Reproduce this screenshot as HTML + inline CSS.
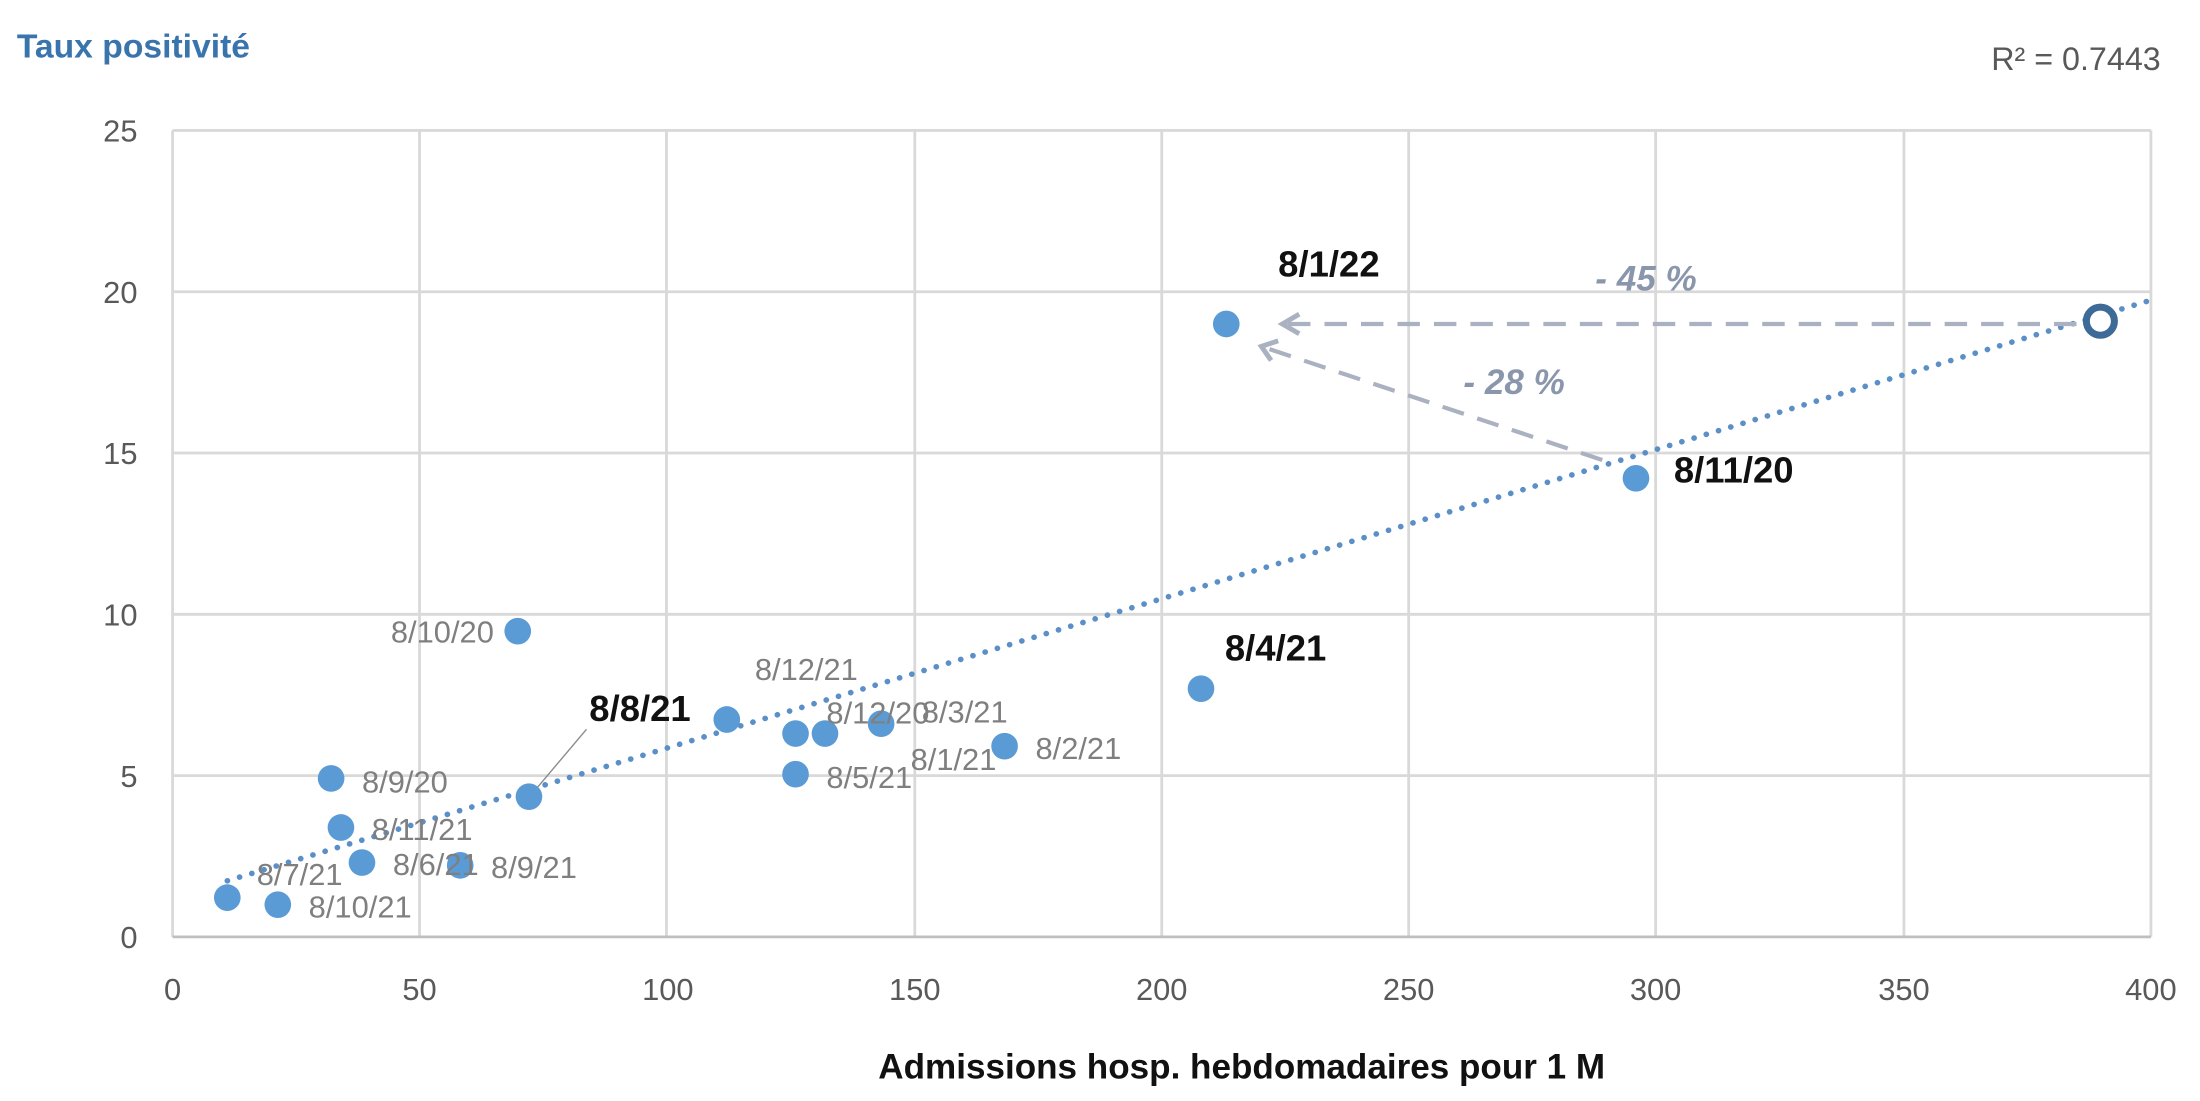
<!DOCTYPE html>
<html><head><meta charset="utf-8"><style>
html,body{margin:0;padding:0;background:#fff;}
svg{display:block;}
text{font-family:"Liberation Sans",sans-serif;}
</style></head><body>
<svg width="2200" height="1101" viewBox="0 0 1568 785" preserveAspectRatio="none" xmlns="http://www.w3.org/2000/svg">
<text x="12" y="41" font-size="24" font-weight="bold" fill="#3a74ad">Taux positivité</text>
<text x="1540" y="50" font-size="23" fill="#595959" text-anchor="end">R² = 0.7443</text>
<g stroke="#d9d9d9" stroke-width="2">
<line x1="123" y1="93" x2="1533" y2="93"/>
<line x1="123" y1="208" x2="1533" y2="208"/>
<line x1="123" y1="323" x2="1533" y2="323"/>
<line x1="123" y1="438" x2="1533" y2="438"/>
<line x1="123" y1="553" x2="1533" y2="553"/>
<line x1="123" y1="93" x2="123" y2="668"/>
<line x1="299" y1="93" x2="299" y2="668"/>
<line x1="475" y1="93" x2="475" y2="668"/>
<line x1="652" y1="93" x2="652" y2="668"/>
<line x1="828" y1="93" x2="828" y2="668"/>
<line x1="1004" y1="93" x2="1004" y2="668"/>
<line x1="1180" y1="93" x2="1180" y2="668"/>
<line x1="1357" y1="93" x2="1357" y2="668"/>
<line x1="1533" y1="93" x2="1533" y2="668"/>
</g>
<line x1="123" y1="668" x2="1533" y2="668" stroke="#bfbfbf" stroke-width="2"/>
<g font-size="22" fill="#595959" text-anchor="end">
<text x="98" y="101">25</text><text x="98" y="216">20</text><text x="98" y="331">15</text>
<text x="98" y="446">10</text><text x="98" y="561">5</text><text x="98" y="676">0</text>
</g>
<g font-size="22" fill="#595959" text-anchor="middle">
<text x="123" y="713">0</text><text x="299" y="713">50</text><text x="476" y="713">100</text>
<text x="652" y="713">150</text><text x="828" y="713">200</text><text x="1004" y="713">250</text>
<text x="1180" y="713">300</text><text x="1357" y="713">350</text><text x="1533" y="713">400</text>
</g>
<text x="885" y="769" font-size="25" font-weight="bold" fill="#111" text-anchor="middle">Admissions hosp. hebdomadaires pour 1 M</text>
<line x1="162" y1="628" x2="1533" y2="214" stroke="#5b8fc7" stroke-width="4" stroke-dasharray="0.1 9" stroke-linecap="round"/>
<line x1="1480" y1="231" x2="916" y2="231" stroke="#aab1c0" stroke-width="3" stroke-dasharray="16 10"/>
<path d="M926,224 L914,231 L926,238" fill="none" stroke="#aab1c0" stroke-width="3.5"/>
<line x1="1142" y1="328" x2="902" y2="248" stroke="#aab1c0" stroke-width="3" stroke-dasharray="16 10"/>
<path d="M911,243 L899,247 L906,257" fill="none" stroke="#aab1c0" stroke-width="3.5"/>
<text x="1137" y="207" font-size="25" font-style="italic" font-weight="bold" fill="#8a96ab">- 45 %</text>
<text x="1043" y="281" font-size="25" font-style="italic" font-weight="bold" fill="#8a96ab">- 28 %</text>
<line x1="380" y1="565" x2="418" y2="520" stroke="#8c8c8c" stroke-width="1"/>
<g fill="#5b9bd5">
<circle cx="162" cy="640" r="9.5"/><circle cx="198" cy="645" r="9.5"/><circle cx="236" cy="555" r="9.5"/>
<circle cx="243" cy="590" r="9.5"/><circle cx="258" cy="615" r="9.5"/><circle cx="328" cy="617" r="9.5"/>
<circle cx="369" cy="450" r="9.5"/><circle cx="377" cy="568" r="9.5"/><circle cx="518" cy="513" r="9.5"/>
<circle cx="567" cy="523" r="9.5"/><circle cx="588" cy="523" r="9.5"/><circle cx="567" cy="552" r="9.5"/>
<circle cx="628" cy="516" r="9.5"/><circle cx="716" cy="532" r="9.5"/><circle cx="856" cy="491" r="9.5"/>
<circle cx="874" cy="231" r="9.5"/><circle cx="1166" cy="341" r="9.5"/>
</g>
<circle cx="1497" cy="229" r="10" fill="#fff" stroke="#3e6a98" stroke-width="5"/>
<g font-size="22" fill="#7f7f7f">
<text x="183" y="631">8/7/21</text><text x="220" y="654">8/10/21</text><text x="258" y="565">8/9/20</text>
<text x="265" y="599">8/11/21</text><text x="280" y="624">8/6/21</text><text x="350" y="626">8/9/21</text>
<text x="352" y="458" text-anchor="end">8/10/20</text><text x="538" y="485">8/12/21</text>
<text x="589" y="562">8/5/21</text><text x="589" y="516">8/12/20</text><text x="657" y="515">8/3/21</text>
<text x="738" y="541">8/2/21</text><text x="649" y="549">8/1/21</text>
</g>
<g font-size="26" font-weight="bold" fill="#111">
<text x="420" y="514">8/8/21</text><text x="873" y="471">8/4/21</text>
<text x="911" y="197">8/1/22</text><text x="1193" y="344">8/11/20</text>
</g>
</svg>
</body></html>
